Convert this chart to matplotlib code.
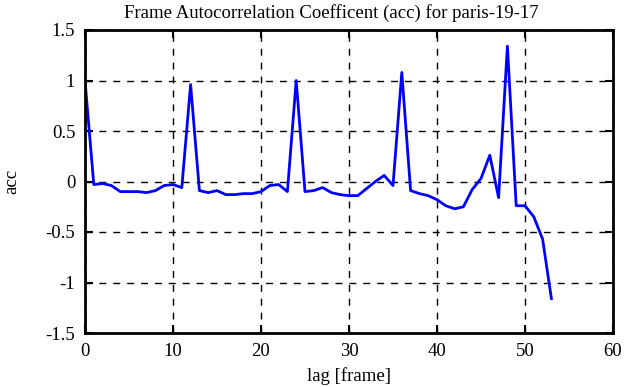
#!/usr/bin/env python
#
# Frame autocorrelation coefficient plot, gnuplot look.
#
import numpy as np
import matplotlib
matplotlib.use("Agg")
import matplotlib.pyplot as plt

# lag in frames and the autocorrelation
lag = np.arange(0, 54)
acc = [1.0, -0.03, -0.02, -0.04, -0.10, -0.10, -0.10, -0.11, -0.09, -0.04,
       -0.03, -0.06, 0.96, -0.09, -0.11, -0.09, -0.13, -0.13, -0.12, -0.12,
       -0.10, -0.04, -0.03, -0.10, 1.0, -0.10, -0.09, -0.06, -0.11, -0.13,
       -0.14, -0.14, -0.07, 0.0, 0.06, -0.04, 1.08, -0.09, -0.12, -0.14,
       -0.18, -0.24, -0.27, -0.25, -0.08, 0.03, 0.26, -0.16, 1.34, -0.24,
       -0.24, -0.35, -0.57, -1.16]

xticks = [0, 10, 20, 30, 40, 50, 60]
yticks = [-1.5, -1, -0.5, 0, 0.5, 1, 1.5]
ytick_labels = ["-1.5", "-1", "-0.5", "0", "0.5", "1", "1.5"]

plt.rcParams['font.family'] = ['Liberation Serif', 'DejaVu Serif']

fig = plt.figure(figsize=(6.3, 3.87), dpi=100)
ax = fig.add_axes([85/630, 1 - 333/387, (613-85)/630, (333-30)/387])

ax.plot(lag, acc, color="blue", lw=2)

ax.set_xlim(0, 60)
ax.set_ylim(-1.5, 1.5)
ax.set_xticks(xticks)
ax.set_yticks(yticks)
ax.set_yticklabels(ytick_labels)
ax.grid(True, color="black", linestyle=(0, (5, 5)), lw=1)
ax.tick_params(direction="in", length=6, width=1.5, top=True, right=True,
               labelsize=13.5, pad=7)
for s in ax.spines.values():
    s.set_linewidth(2)

ax.set_xlabel("lag [frame]", fontsize=13.5, labelpad=5)
ax.set_ylabel("acc", fontsize=13.5, labelpad=18)
# gnuplot centres the title on the canvas, not on the axes
ax.set_title("Frame Autocorrelation Coefficent (acc) for paris-19-17",
             fontsize=13.5, pad=9, x=0.466)

fig.savefig("out.png", dpi=100)
